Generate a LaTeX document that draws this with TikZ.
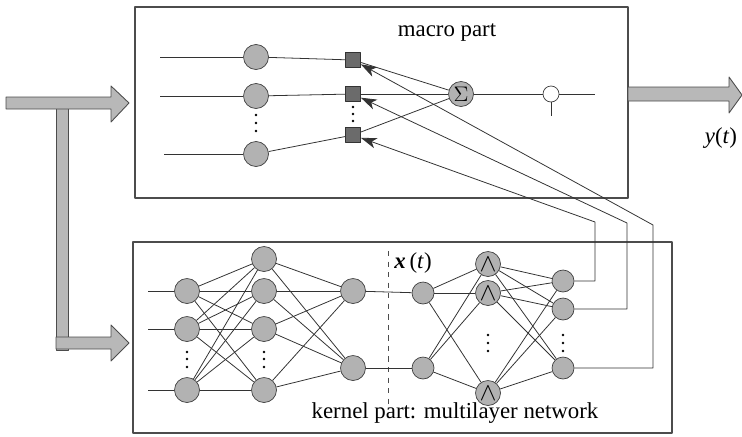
\documentclass[tikz,border=0pt]{standalone}
\usepackage{fontspec}
\setmainfont{Liberation Serif}
\usetikzlibrary{arrows.meta}

\tikzset{
  neuron/.style={circle, draw=black!75, fill=black!30, minimum size=0.5cm, inner sep=0pt},
  smallneuron/.style={neuron, minimum size=0.44cm},
  weight/.style={rectangle, draw=black!80, fill=black!58, minimum size=0.3cm, inner sep=0pt},
  bigarrow/.style={draw=black!70, fill=black!28, line width=0.5pt},
  wire/.style={draw=black!80, line width=0.45pt},
  frame/.style={draw=black!70, line width=0.6pt},
}

\begin{document}
\begin{tikzpicture}[x=0.02cm, y=-0.02cm, >={Stealth[length=9pt,width=6pt,inset=2.5pt]}, line join=round, font=\fontsize{13}{15}\selectfont]

	\useasboundingbox (0,0) rectangle (742,436);

	% frames of the two parts
	\draw[frame] (135,7) rectangle (628,198);
	\draw[frame] (133,242) rectangle (672,433);
	\node at (447,33) {macro part};
	\node at (455,413) {kernel part: multilayer network};

	% big input arrows
	\draw[bigarrow] (56,104) rectangle (68,350);
	\draw[bigarrow] (6,97) -- (111,97) -- (111,86) -- (129,103) -- (111,122) -- (111,109) -- (6,109) -- cycle;
	\draw[bigarrow] (56,337) -- (111,337) -- (111,325) -- (129,343) -- (111,361) -- (111,349) -- (56,349) -- cycle;

	% big output arrow
	\draw[bigarrow] (628,87) -- (729,87) -- (729,77) -- (742,95) -- (729,113) -- (729,101) -- (628,101) -- cycle;
	\node at (721,138) {\textit{y}(\textit{t})};

	% macro part: neurons, weights, sum and threshold
	\node[neuron] (m1) at (256,57) {};
	\node[neuron] (m2) at (256,96) {};
	\node[neuron] (m3) at (256,154) {};
	\node[weight] (s1) at (353,60) {};
	\node[weight] (s2) at (353,94) {};
	\node[weight] (s3) at (353,135) {};
	\node[neuron] (sum) at (461,94) {$\Sigma$};
	\node[circle, draw=black!75, fill=white, minimum size=0.32cm, inner sep=0pt] (th) at (551,94) {};

	\coordinate (mi1) at (160,57);
	\coordinate (mi2) at (160,96);
	\coordinate (mi3) at (164,154);
	\coordinate (mo) at (595,94);
	\coordinate (thb) at (551,116);

	\foreach \i in {1,2,3} {
		\draw[wire] (mi\i) -- (m\i);
		\draw[wire] (m\i) -- (s\i);
		\draw[wire] (s\i) -- (sum);
	}
	\draw[wire] (sum) -- (th) -- (mo);
	\draw[wire] (th) -- (thb);

	\foreach \y in {115,123,131} \fill (256,\y) circle (1.3);
	\foreach \y in {107,114,121} \fill (353,\y) circle (1.3);

	% kernel part: left network
	\node[neuron] (a1) at (187,291) {};
	\node[neuron] (a2) at (187,329) {};
	\node[neuron] (a3) at (187,390) {};
	\node[neuron] (b1) at (264,259) {};
	\node[neuron] (b2) at (264,291) {};
	\node[neuron] (b3) at (264,329) {};
	\node[neuron] (b4) at (264,390) {};
	\node[neuron] (c1) at (353,291) {};
	\node[neuron] (c2) at (353,368) {};

	\foreach \i/\y in {1/291,2/329,3/390} {
		\coordinate (ai\i) at (148,\y);
		\draw[wire] (ai\i) -- (a\i);
	}
	\foreach \i in {1,2,3}
		\foreach \j in {1,2,3,4}
			\draw[wire] (a\i) -- (b\j);
	\foreach \j in {1,2,3,4}
		\foreach \k in {1,2}
			\draw[wire] (b\j) -- (c\k);

	\foreach \y in {352,359,367} {
		\fill (187,\y) circle (1.3);
		\fill (264,\y) circle (1.3);
	}

	% dividing line and x(t)
	\draw[black!70, dashed, line width=0.5pt] (388,251) -- (388,405);
	\node at (413,263) {\textbf{\textit{x}}\,(\textit{t})};

	% kernel part: right network
	\node[smallneuron] (d1) at (423,293) {};
	\node[smallneuron] (d2) at (423,368) {};
	\node[neuron] (e1) at (488,264) {\Large$\wedge$};
	\node[neuron] (e2) at (488,293) {\Large$\wedge$};
	\node[neuron] (e3) at (488,393) {\Large$\wedge$};
	\node[smallneuron] (f1) at (563,281) {};
	\node[smallneuron] (f2) at (563,309) {};
	\node[smallneuron] (f3) at (563,368) {};

	\draw[wire] (c1) -- (d1);
	\draw[wire] (c2) -- (d2);
	\foreach \i in {1,2}
		\foreach \j in {1,2,3}
			\draw[wire] (d\i) -- (e\j);
	\foreach \j in {1,2,3}
		\foreach \k in {1,2,3}
			\draw[wire] (e\j) -- (f\k);

	\foreach \y in {335,343,351} {
		\fill (488,\y) circle (1.3);
		\fill (563,\y) circle (1.3);
	}

	% feedback of the kernel outputs to the weights
	\draw[wire, ->] (f1) -| (595,222) -- (s3);
	\draw[wire, ->] (f2) -| (627,223) -- (s2);
	\draw[wire, ->] (f3) -| (653,225) -- (s1);

\end{tikzpicture}
\end{document}
